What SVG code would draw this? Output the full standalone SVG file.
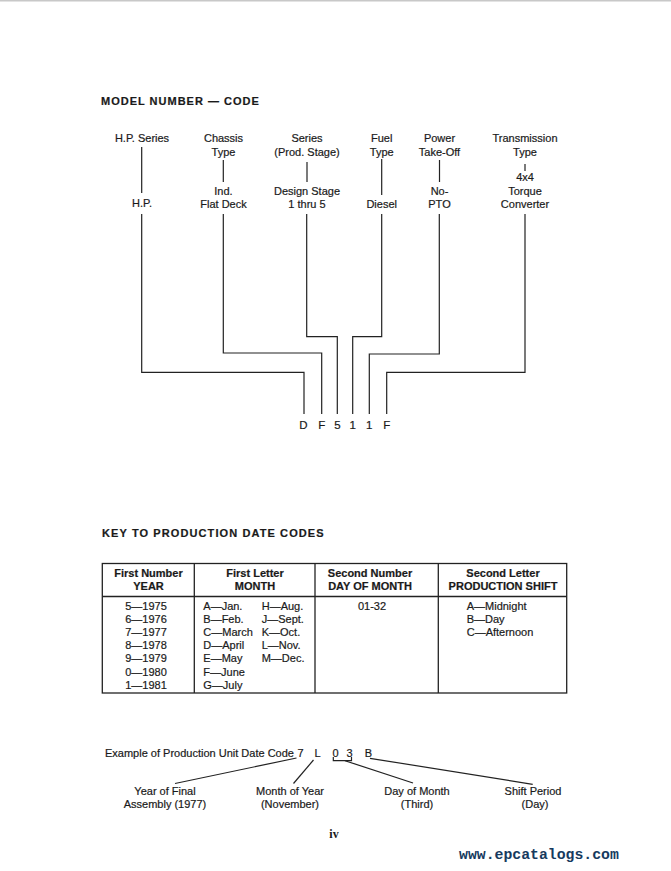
<svg xmlns="http://www.w3.org/2000/svg" width="671" height="871" viewBox="0 0 671 871">
<style>
text{font-family:"Liberation Sans",Arial,sans-serif;fill:#1a1a1a;font-size:11px;stroke:#1a1a1a;stroke-width:0.2px}
.c{text-anchor:middle}
.h{font-weight:bold;font-size:11px;letter-spacing:1px}
.th{font-weight:bold;font-size:11px;text-anchor:middle}
.ln{fill:none;stroke:#222;stroke-width:1.2}
.tb{fill:none;stroke:#222;stroke-width:1.3}
.code{font-size:11.5px;text-anchor:middle}
</style>
<rect x="0" y="0" width="671" height="871" fill="#fff"/>
<line x1="0" y1="0.8" x2="671" y2="0.8" stroke="#c8c8c8" stroke-width="1.5"/>

<text id="title1" class="h" x="101" y="105">MODEL NUMBER — CODE</text>

<g id="hp-series">
<text class="c" x="142" y="142">H.P. Series</text>
<text class="c" x="142" y="207">H.P.</text>
</g>
<g id="chassis">
<text class="c" x="223.5" y="142">Chassis</text>
<text class="c" x="223.5" y="156">Type</text>
<text class="c" x="223.5" y="195">Ind.</text>
<text class="c" x="223.5" y="208">Flat Deck</text>
</g>
<g id="series">
<text class="c" x="307" y="142">Series</text>
<text class="c" x="307" y="156">(Prod. Stage)</text>
<text class="c" x="307" y="195">Design Stage</text>
<text class="c" x="307" y="208">1 thru 5</text>
</g>
<g id="fuel">
<text class="c" x="381.7" y="142">Fuel</text>
<text class="c" x="381.7" y="156">Type</text>
<text class="c" x="381.7" y="208">Diesel</text>
</g>
<g id="power">
<text class="c" x="439.5" y="142">Power</text>
<text class="c" x="439.5" y="156">Take-Off</text>
<text class="c" x="439.5" y="195">No-</text>
<text class="c" x="439.5" y="208">PTO</text>
</g>
<g id="transmission">
<text class="c" x="525" y="142">Transmission</text>
<text class="c" x="525" y="156">Type</text>
<text class="c" x="525" y="181">4x4</text>
<text class="c" x="525" y="195">Torque</text>
<text class="c" x="525" y="208">Converter</text>
</g>
<g id="code">
<text class="code" x="303.5" y="429">D</text>
<text class="code" x="321.7" y="429">F</text>
<text class="code" x="337.5" y="429">5</text>
<text class="code" x="352.7" y="429">1</text>
<text class="code" x="369.3" y="429">1</text>
<text class="code" x="386.7" y="429">F</text>
</g>

<g id="connectors">
<line class="ln" x1="141.7" y1="147" x2="141.7" y2="193"/>
<line class="ln" x1="223.3" y1="160" x2="223.3" y2="182"/>
<line class="ln" x1="307" y1="162" x2="307" y2="182"/>
<line class="ln" x1="381.7" y1="159" x2="381.7" y2="195"/>
<line class="ln" x1="439.5" y1="160" x2="439.5" y2="182"/>
<line class="ln" x1="525" y1="164" x2="525" y2="171"/>
<polyline class="ln" points="141.7,214 141.7,372.3 304,372.3 304,414"/>
<polyline class="ln" points="223.3,214 223.3,353 321.7,353 321.7,414"/>
<polyline class="ln" points="306.7,214 306.7,336.7 337.3,336.7 337.3,414"/>
<polyline class="ln" points="381.7,214 381.7,336.7 352.7,336.7 352.7,414"/>
<polyline class="ln" points="439.3,214 439.3,354 369.3,354 369.3,414"/>
<polyline class="ln" points="525,214 525,372.3 386.7,372.3 386.7,414"/>
<line class="ln" x1="296.5" y1="758" x2="175" y2="783.5"/>
<line class="ln" x1="313.5" y1="760" x2="293.5" y2="783.5"/>
<polyline class="ln" points="333.3,757 333.3,760.7 351.5,760.7 351.5,757"/>
<line class="ln" x1="345" y1="760.7" x2="413" y2="783"/>
<line class="ln" x1="370" y1="758.3" x2="532.7" y2="784.3"/>
</g>

<text id="title2" class="h" x="102" y="537" style="letter-spacing:1.1px">KEY TO PRODUCTION DATE CODES</text>

<g id="table">
<rect class="tb" x="102.3" y="563.5" width="464.4" height="129.5"/>
<line class="tb" x1="102.3" y1="596.5" x2="566.7" y2="596.5"/>
<line class="tb" x1="194.3" y1="563.5" x2="194.3" y2="693"/>
<line class="tb" x1="315" y1="563.5" x2="315" y2="693"/>
<line class="tb" x1="438.3" y1="563.5" x2="438.3" y2="693"/>
<text class="th" x="148.5" y="577">First Number</text>
<text class="th" x="148.5" y="590">YEAR</text>
<text class="th" x="255" y="577">First Letter</text>
<text class="th" x="255" y="590">MONTH</text>
<text class="th" x="370" y="577">Second Number</text>
<text class="th" x="370" y="590">DAY OF MONTH</text>
<text class="th" x="503" y="577">Second Letter</text>
<text class="th" x="503" y="590">PRODUCTION SHIFT</text>
<text class="c" x="146" y="610">5—1975</text>
<text class="c" x="146" y="623.1">6—1976</text>
<text class="c" x="146" y="636.2">7—1977</text>
<text class="c" x="146" y="649.3">8—1978</text>
<text class="c" x="146" y="662.4">9—1979</text>
<text class="c" x="146" y="675.5">0—1980</text>
<text class="c" x="146" y="688.6">1—1981</text>
<text x="203.3" y="610">A—Jan.</text>
<text x="203.3" y="623.1">B—Feb.</text>
<text x="203.3" y="636.2">C—March</text>
<text x="203.3" y="649.3">D—April</text>
<text x="203.3" y="662.4">E—May</text>
<text x="203.3" y="675.5">F—June</text>
<text x="203.3" y="688.6">G—July</text>
<text x="261.7" y="610">H—Aug.</text>
<text x="261.7" y="623.1">J—Sept.</text>
<text x="261.7" y="636.2">K—Oct.</text>
<text x="261.7" y="649.3">L—Nov.</text>
<text x="261.7" y="662.4">M—Dec.</text>
<text class="c" x="372" y="610">01-32</text>
<text x="466.7" y="610">A—Midnight</text>
<text x="466.7" y="623.1">B—Day</text>
<text x="466.7" y="636.2">C—Afternoon</text>
</g>

<g id="example">
<text x="105" y="757">Example of Production Unit Date Code</text>
<text class="c" x="300.5" y="757">7</text>
<text class="c" x="317.5" y="757">L</text>
<text class="c" x="335.5" y="757">0</text>
<text class="c" x="349.5" y="757">3</text>
<text class="c" x="368.5" y="757">B</text>
</g>
<g id="year-label">
<text class="c" x="165" y="795">Year of Final</text>
<text class="c" x="165" y="808">Assembly (1977)</text>
</g>
<g id="month-label">
<text class="c" x="290" y="795">Month of Year</text>
<text class="c" x="290" y="808">(November)</text>
</g>
<g id="day-label">
<text class="c" x="417" y="795">Day of Month</text>
<text class="c" x="417" y="808">(Third)</text>
</g>
<g id="shift-label">
<text class="c" x="533" y="795">Shift Period</text>
<text class="c" x="535" y="808">(Day)</text>
</g>

<text id="page" x="334" y="838" style="font-family:'Liberation Serif','Times New Roman',serif;font-weight:bold;font-size:12px;text-anchor:middle;stroke:none">iv</text>
<text id="watermark" x="459" y="859" style="font-family:'Liberation Mono','Courier New',monospace;font-weight:bold;font-size:14.8px;fill:#163a5e;stroke:none">www.epcatalogs.com</text>
</svg>
